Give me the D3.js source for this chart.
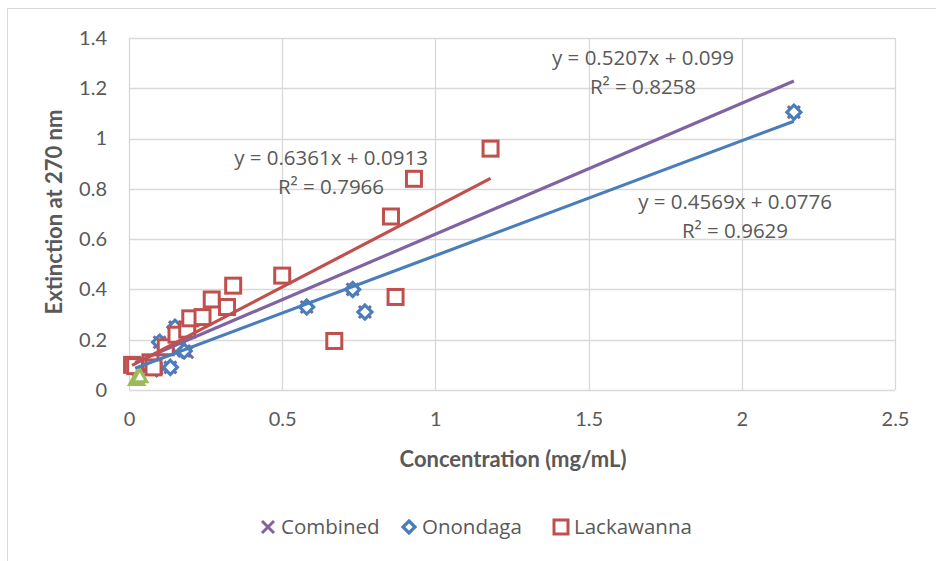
<!DOCTYPE html>
<html><head><meta charset="utf-8">
<script src="https://cdn.jsdelivr.net/npm/d3@7"></script>
<style>body{margin:0;background:#fff}svg{display:block}</style>
</head><body><svg id="c" width="936" height="561"></svg>
<script>
// ---- data ----
const onondagaX = [0.03, 0.09, 0.10, 0.135, 0.15, 0.16, 0.18, 0.58, 0.73, 0.77, 2.17];
const onondagaY = [0.08, 0.085, 0.19, 0.09, 0.25, 0.17, 0.155, 0.33, 0.40, 0.31, 1.105];
const lackX = [0.01, 0.02, 0.07, 0.08, 0.12, 0.155, 0.19, 0.20, 0.24, 0.27, 0.32, 0.34, 0.50, 0.67, 0.855, 0.87, 0.93, 1.18];
const lackY = [0.10, 0.095, 0.11, 0.09, 0.17, 0.22, 0.24, 0.285, 0.29, 0.36, 0.33, 0.415, 0.455, 0.195, 0.69, 0.37, 0.84, 0.96];
const combinedX = [0.03, 0.09, 0.10, 0.135, 0.15, 0.16, 0.18, 0.19, 0.58, 0.73, 0.77, 2.17];
const combinedY = [0.08, 0.085, 0.19, 0.09, 0.25, 0.17, 0.155, 0.15, 0.33, 0.40, 0.31, 1.105];
const otherX = [0.025, 0.035];
const otherY = [0.045, 0.055];
const seriesNames = ["Combined", "Onondaga", "Lackawanna"];
const trendSlope = [0.5207, 0.4569, 0.6361];
const trendIntercept = [0.099, 0.0776, 0.0913];
const trendRange = [[0.02, 2.17], [0.02, 2.17], [0.01, 1.18]];
const trendEq = ["y = 0.5207x + 0.099", "y = 0.4569x + 0.0776", "y = 0.6361x + 0.0913"];
const trendR2 = ["R² = 0.8258", "R² = 0.9629", "R² = 0.7966"];
const xTicks = [0, 0.5, 1, 1.5, 2, 2.5];
const yTicks = [0, 0.2, 0.4, 0.6, 0.8, 1, 1.2, 1.4];

const C = {comb: "#8064a2", ono: "#4a7ebb", lack: "#c0504d", oth: "#9bbb59", grid: "#d9d9d9", text: "#595959"};
const svg = d3.select("#c");
const L = 129, R = 895, T = 38, B = 390;
const x = d3.scaleLinear().domain([0, 2.5]).range([L, R]);
const y = d3.scaleLinear().domain([0, 1.4]).range([B, T]);

// outer border
svg.append("rect").attr("x", 7.5).attr("y", 8.5).attr("width", 940).attr("height", 560)
  .attr("fill", "#fff").attr("stroke", C.grid);

// grid
svg.append("g").selectAll("line").data(yTicks).join("line")
  .attr("x1", L).attr("x2", R).attr("y1", d => Math.round(y(d)) + 0.5).attr("y2", d => Math.round(y(d)) + 0.5)
  .attr("stroke", C.grid).attr("stroke-width", 1.3);
svg.append("g").selectAll("line").data(xTicks).join("line")
  .attr("y1", T).attr("y2", B).attr("x1", d => Math.round(x(d)) + 0.5).attr("x2", d => Math.round(x(d)) + 0.5)
  .attr("stroke", C.grid).attr("stroke-width", 1.3);

// axes labels via d3 axes
const ff = "Lato, 'Open Sans', sans-serif";
const xa = svg.append("g").attr("transform", `translate(0,${B})`)
  .call(d3.axisBottom(x).tickValues(xTicks).tickSize(0).tickPadding(22).tickFormat(d => String(d)));
xa.select(".domain").remove();
xa.selectAll("text").attr("font-family", ff).attr("font-size", 20).attr("fill", C.text);
const ya = svg.append("g").attr("transform", `translate(${L},0)`)
  .call(d3.axisLeft(y).tickValues(yTicks).tickSize(0).tickPadding(22).tickFormat(d => String(d)));
ya.select(".domain").remove();
ya.selectAll("text").attr("font-family", ff).attr("font-size", 20).attr("fill", C.text);

svg.append("text").attr("x", 513).attr("y", 467).attr("text-anchor", "middle")
  .attr("font-family", ff).attr("font-weight", "bold").attr("font-size", 22).attr("fill", C.text)
  .text("Concentration (mg/mL)");
svg.append("text").attr("transform", "translate(62,212) rotate(-90)").attr("text-anchor", "middle")
  .attr("font-family", ff).attr("font-weight", "bold").attr("font-size", 22).attr("fill", C.text)
  .text("Extinction at 270 nm");

// markers
const pts = (xs, ys) => xs.map((v, i) => [v, ys[i]]);
function xMark(g, s) {
  g.append("path").attr("d", `M${-s},${-s}L${s},${s}M${-s},${s}L${s},${-s}`)
    .attr("stroke", C.comb).attr("stroke-width", 3).attr("fill", "none");
}
function diamond(g, s) {
  g.append("path").attr("d", `M0,${-s}L${s},0L0,${s}L${-s},0Z`)
    .attr("stroke", C.ono).attr("stroke-width", 3.2).attr("fill", "#fff");
}
function square(g, s) {
  g.append("rect").attr("x", -s).attr("y", -s).attr("width", 2 * s).attr("height", 2 * s)
    .attr("stroke", C.lack).attr("stroke-width", 3).attr("fill", "#fff");
}
function tri(g, s) {
  g.append("path").attr("d", `M0,${-s}L${s},${s * 0.8}L${-s},${s * 0.8}Z`)
    .attr("stroke", C.oth).attr("stroke-width", 3.2).attr("fill", "#fff");
}
function plot(data, fn, s) {
  svg.append("g").selectAll("g").data(data).join("g")
    .attr("transform", d => `translate(${x(d[0])},${y(d[1])})`)
    .each(function () { fn(d3.select(this), s); });
}
plot(pts(combinedX, combinedY), xMark, 6);
plot(pts(onondagaX, onondagaY), diamond, 7);
plot(pts(lackX, lackY), square, 7.5);
plot(pts(otherX, otherY), tri, 7);

// trendlines
const tcol = [C.comb, C.ono, C.lack];
trendSlope.forEach((m, i) => {
  const [a, b] = trendRange[i];
  svg.append("line").attr("x1", x(a)).attr("y1", y(m * a + trendIntercept[i]))
    .attr("x2", x(b)).attr("y2", y(m * b + trendIntercept[i]))
    .attr("stroke", tcol[i]).attr("stroke-width", 3.2);
});

// equation labels
const eqPos = [[643, 65], [735, 209], [331, 165]];
const eff = "'Open Sans', sans-serif";
trendEq.forEach((t, i) => {
  const g = svg.append("text").attr("text-anchor", "middle").attr("font-family", eff)
    .attr("font-size", 20.5).attr("fill", C.text);
  g.append("tspan").attr("x", eqPos[i][0]).attr("y", eqPos[i][1]).text(t);
  g.append("tspan").attr("x", eqPos[i][0]).attr("y", eqPos[i][1] + 29).text(trendR2[i]);
});

// legend
const leg = [[268, "Combined", xMark, 6], [409, "Onondaga", diamond, 6], [561, "Lackawanna", square, 7]];
leg.forEach(([lx, name, fn, s]) => {
  const g = svg.append("g").attr("transform", `translate(${lx},527)`);
  fn(g, s);
  svg.append("text").attr("x", lx + 13).attr("y", 534).attr("font-family", eff)
    .attr("font-size", 20.5).attr("fill", C.text).text(name);
});
</script></body></html>
